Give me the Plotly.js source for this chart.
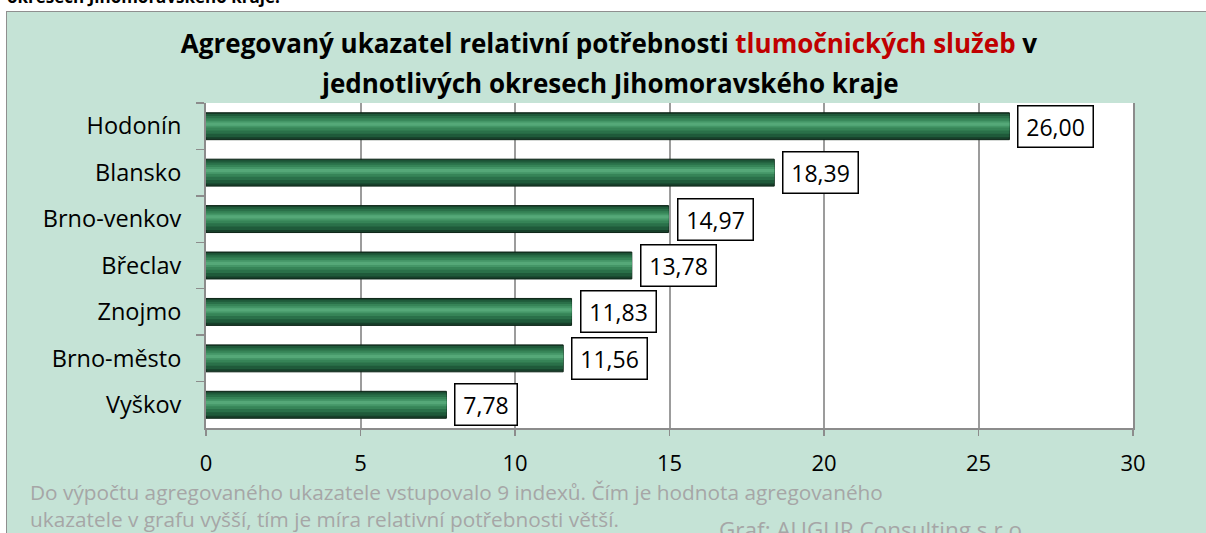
<!DOCTYPE html>
<html>
<head>
<meta charset="utf-8">
<script src="https://cdn.plot.ly/plotly-3.0.1.min.js"></script>
<style>
  html, body { margin: 0; padding: 0; background: #ffffff; width: 1206px; height: 533px; overflow: hidden; position: relative; }
  #toptext { position: absolute; left: 7px; top: -15px; font-family: "Open Sans", sans-serif; font-weight: bold; font-size: 17px; color: #000; white-space: nowrap; }
  #frame { position: absolute; left: 6px; top: 11px; width: 1199px; height: 521px; border: 1px solid #8f8f8f; background: #C5E3D6; }
  #chart { width: 1199px; height: 521px; }
</style>
</head>
<body>
<div id="toptext">okresech Jihomoravského kraje.</div>
<div id="frame"><div id="chart"></div></div>
<script>
// ---- data ----
const districts = ["Hodonín", "Blansko", "Brno-venkov", "Břeclav", "Znojmo", "Brno-město", "Vyškov"];
const values = [26.00, 18.39, 14.97, 13.78, 11.83, 11.56, 7.78];
const xTicks = [0, 5, 10, 15, 20, 25, 30];
const titleLine1 = 'Agregovaný ukazatel relativní potřebnosti <span style="color:#C00000">tlumočnických služeb</span> v';
const titleLine2 = 'jednotlivých okresech Jihomoravského kraje';
const note1 = 'Do výpočtu agregovaného ukazatele vstupovalo 9 indexů. Čím je hodnota agregovaného';
const note2 = 'ukazatele v grafu vyšší, tím je míra relativní potřebnosti větší.';
const credit = 'Graf: AUGUR Consulting s.r.o.';

// ---- bar layers to imitate the cylindrical gradient ----
const layers = [
  {w: 0.58, c: '#173f2a', line: '#0c2416', lw: 1},
  {w: 0.50, c: '#1f5a3a', line: null, lw: 0, shift: -0.015},
  {w: 0.38, c: '#2a7049', line: null, lw: 0, shift: -0.03},
  {w: 0.26, c: '#368457', line: null, lw: 0, shift: -0.04},
  {w: 0.15, c: '#449667', line: null, lw: 0, shift: -0.045},
  {w: 0.07, c: '#55a878', line: null, lw: 0, shift: -0.045}
];
const traces = layers.map((L, i) => ({
  type: 'bar',
  orientation: 'h',
  x: values,
  y: districts,
  width: L.w,
  offset: -L.w / 2 + (L.shift || 0),
  marker: {color: L.c, line: {color: L.line || L.c, width: L.lw}},
  hoverinfo: i === 0 ? 'x+y' : 'skip',
  showlegend: false
}));

const font = "'Open Sans', sans-serif";
const annotations = values.map((v, i) => ({
  x: v, y: districts[i], xref: 'x', yref: 'y',
  text: '\u2009' + v.toFixed(2).replace('.', ',') + '\u2009',
  showarrow: false, xanchor: 'left', yanchor: 'middle', xshift: 8,
  bgcolor: '#ffffff', bordercolor: '#000000', borderwidth: 1.5, borderpad: 4,
  font: {family: font, size: 23, color: '#000'}
}));
annotations.push(
  {text: '<b>' + titleLine2 + '</b>', xref: 'paper', yref: 'paper', x: 0.435, y: 1, xanchor: 'center', yanchor: 'middle', yshift: 20, showarrow: false, font: {family: font, size: 26, color: '#000'}},
  {text: note1, xref: 'paper', yref: 'paper', x: -0.192, y: 0, xanchor: 'left', yanchor: 'middle', yshift: -64, showarrow: false, font: {family: font, size: 20.8, color: '#a6a6a6'}},
  {text: note2, xref: 'paper', yref: 'paper', x: -0.192, y: 0, xanchor: 'left', yanchor: 'middle', yshift: -91, showarrow: false, font: {family: font, size: 20.8, color: '#a6a6a6'}},
  {text: credit, xref: 'paper', yref: 'paper', x: 0.72, y: 0, xanchor: 'center', yanchor: 'middle', yshift: -101, showarrow: false, font: {family: font, size: 22.5, color: '#a6a6a6'}}
);

const layout = {
  width: 1199, height: 521,
  margin: {l: 199, r: 73, t: 91, b: 105, pad: 0},
  paper_bgcolor: '#C5E3D6',
  plot_bgcolor: '#ffffff',
  barmode: 'overlay',
  title: {text: '<b>' + titleLine1 + '</b>', x: 602 / 1199, xanchor: 'center', xref: 'container', y: 1 - 32 / 521, yanchor: 'middle', yref: 'container', font: {family: font, size: 26, color: '#000'}},
  xaxis: {
    range: [0, 30], tickvals: xTicks, ticktext: xTicks.map(String),
    showgrid: true, gridcolor: '#9c9c9c', gridwidth: 2,
    zeroline: false, showline: true, linecolor: '#8c8c8c', linewidth: 2,
    ticks: 'outside', ticklen: 6, tickcolor: '#8c8c8c', tickwidth: 1.5,
    ticklabelstandoff: 9,
    tickfont: {family: font, size: 22, color: '#000'}, fixedrange: true
  },
  yaxis: {
    type: 'category', categoryorder: 'array', categoryarray: districts, autorange: 'reversed',
    showgrid: false, zeroline: false, showline: true, mirror: true, linecolor: '#8c8c8c', linewidth: 2,
    ticks: 'outside', tickson: 'boundaries', ticklen: 8, tickcolor: '#8c8c8c', tickwidth: 1.5,
    ticklabelstandoff: 18,
    tickfont: {family: font, size: 23.5, color: '#000'}, fixedrange: true
  },
  annotations: annotations,
  showlegend: false
};

Plotly.newPlot('chart', traces, layout, {displayModeBar: false, staticPlot: true});
</script>
</body>
</html>
